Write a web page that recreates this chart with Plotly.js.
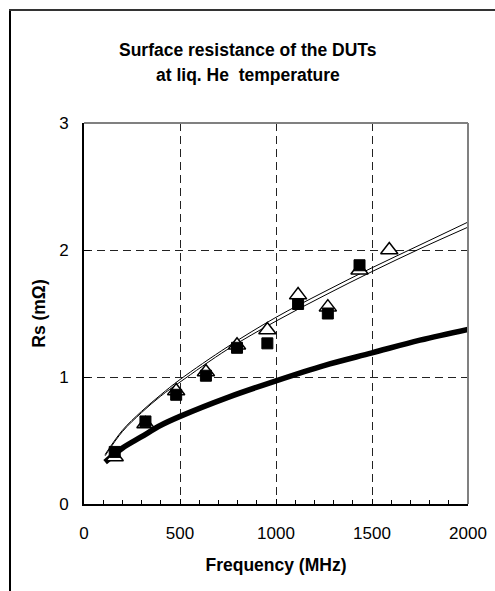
<!DOCTYPE html>
<html>
<head>
<meta charset="utf-8">
<script src="https://cdn.plot.ly/plotly-3.0.1.min.js"></script>
<style>html,body{margin:0;padding:0;background:#fff;}#chart{width:495px;height:591px;}</style>
</head>
<body>
<div id="chart"></div>
<script>
// Measured data (frequency in MHz, Rs in mOhm)
var squareFreq = [160, 320, 480, 635, 797, 955, 1115, 1270, 1435];
var squareRs   = [0.41, 0.65, 0.86, 1.01, 1.23, 1.265, 1.575, 1.50, 1.88];

var triangleFreq = [160, 320, 480, 635, 797, 955, 1115, 1270, 1435, 1590];
var triangleRs   = [0.37, 0.63, 0.89, 1.04, 1.25, 1.37, 1.645, 1.55, 1.84, 2.00];

// Fitted curves
var curveFreq = [110, 200, 300, 400, 500, 750, 1000, 1250, 1500, 1750, 2000];
var fitUpperA = [0.39, 0.58, 0.73, 0.86, 0.98, 1.24, 1.47, 1.67, 1.86, 2.04, 2.22];
var fitUpperB = [0.38, 0.57, 0.72, 0.85, 0.96, 1.22, 1.44, 1.64, 1.83, 2.01, 2.18];
var theoryRs  = [0.33, 0.44, 0.53, 0.62, 0.69, 0.84, 0.97, 1.09, 1.19, 1.29, 1.375];

var xTickVals = [0, 500, 1000, 1500, 2000];
var yTickVals = [0, 1, 2, 3];

var titleLines = ['Surface resistance of the DUTs', 'at liq. He  temperature'];

var FONT = 'Arial, "Liberation Sans", Helvetica, sans-serif';

var traces = [
  {x: curveFreq, y: theoryRs, type: 'scatter', mode: 'lines', line: {color: '#000', width: 5.5, shape: 'spline'}, hoverinfo: 'skip'},
  {x: curveFreq, y: fitUpperA, type: 'scatter', mode: 'lines', line: {color: '#000', width: 1, shape: 'spline'}, hoverinfo: 'skip'},
  {x: curveFreq, y: fitUpperB, type: 'scatter', mode: 'lines', line: {color: '#000', width: 1, shape: 'spline'}, hoverinfo: 'skip'},
  {x: triangleFreq, y: triangleRs, type: 'scatter', mode: 'markers',
   marker: {symbol: 'triangle-up', size: 15, color: '#fff', line: {color: '#000', width: 1.5}}},
  {x: squareFreq, y: squareRs, type: 'scatter', mode: 'markers',
   marker: {symbol: 'square', size: 11, color: '#000', line: {color: '#000', width: 1}}}
];

var L = 84, R = 27, T = 123, B = 87, W = 495, H = 591;
var pw = W - L - R, ph = H - T - B;
function px(x){ return (x - L) / pw; }
function py(y){ return (H - B - y) / ph; }

var layout = {
  width: W, height: H,
  margin: {l: L, r: R, t: T, b: B, pad: 0},
  paper_bgcolor: '#fff', plot_bgcolor: '#fff',
  showlegend: false,
  font: {family: FONT, color: '#000', size: 17},
  annotations: [
    {text: '<b>' + titleLines[0] + '</b>', xref: 'paper', yref: 'paper', x: px(247.5), y: py(50),
     xanchor: 'center', yanchor: 'middle', showarrow: false, font: {family: FONT, size: 17.5, color: '#000'}},
    {text: '<b>' + titleLines[1] + '</b>', xref: 'paper', yref: 'paper', x: px(247.5), y: py(75),
     xanchor: 'center', yanchor: 'middle', showarrow: false, font: {family: FONT, size: 17.5, color: '#000'}}
  ],
  xaxis: {
    range: [0, 2000], tickvals: xTickVals, ticktext: xTickVals.map(String),
    ticks: 'inside', ticklen: 5, tickwidth: 1, tickcolor: '#000',
    minor: {dtick: 100, ticks: 'inside', ticklen: 4, tickwidth: 1, tickcolor: '#000', showgrid: false},
    showline: true, linecolor: '#000', linewidth: 2,
    showgrid: true, gridcolor: '#222', gridwidth: 1, griddash: '8px,5px',
    zeroline: false, ticklabelstandoff: 13,
    tickfont: {family: FONT, size: 17, color: '#000'},
    title: {text: '<b>Frequency (MHz)</b>', font: {family: FONT, size: 17.5, color: '#000'}, standoff: 16},
    fixedrange: true
  },
  yaxis: {
    range: [0, 3], tickvals: yTickVals, ticktext: yTickVals.map(String),
    ticks: 'inside', ticklen: 6, tickwidth: 1, tickcolor: '#000',
    showline: true, linecolor: '#000', linewidth: 2,
    showgrid: true, gridcolor: '#222', gridwidth: 1, griddash: '8px,5px',
    zeroline: false, ticklabelstandoff: 10,
    tickfont: {family: FONT, size: 17, color: '#000'},
    title: {text: '<b>Rs (mΩ)</b>', font: {family: FONT, size: 17.5, color: '#000'}, standoff: 9},
    fixedrange: true
  },
  shapes: [
    {type: 'line', xref: 'paper', yref: 'paper', x0: 0, x1: 1, y0: 1, y1: 1, line: {color: '#808080', width: 2}},
    {type: 'line', xref: 'paper', yref: 'paper', x0: 1, x1: 1, y0: 0, y1: 1, line: {color: '#808080', width: 2}},
    {type: 'line', xref: 'paper', yref: 'paper', x0: px(10), x1: px(10), y0: py(600), y1: py(9), line: {color: '#000', width: 2}},
    {type: 'line', xref: 'paper', yref: 'paper', x0: px(9), x1: px(505), y0: py(10), y1: py(10), line: {color: '#333', width: 2}}
  ]
};

Plotly.newPlot('chart', traces, layout, {staticPlot: true, displayModeBar: false});
</script>
</body>
</html>
